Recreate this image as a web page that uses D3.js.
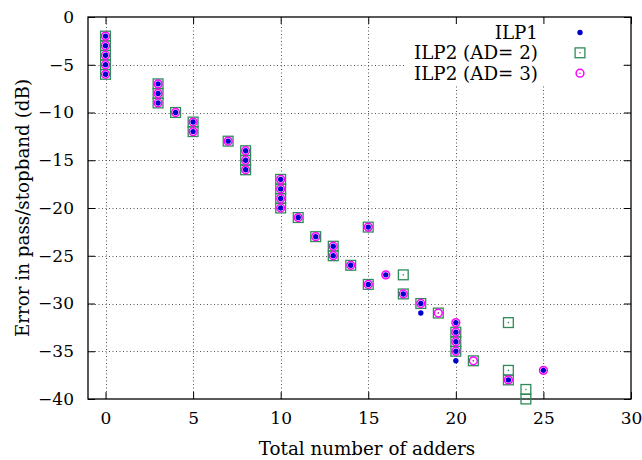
<!DOCTYPE html>
<html><head><meta charset="utf-8">
<script src="https://cdn.jsdelivr.net/npm/d3@7"></script>
<style>
body{margin:0;background:#fff}svg{display:block}
svg text{font-family:"DejaVu Serif",serif !important;}
</style>
</head><body>
<script>
// ---- data ----
const ilp1X = [0,0,0,0,0,3,3,3,4,5,5,7,8,8,8,10,10,10,10,11,12,13,13,14,15,15,16,17,18,18,20,20,20,20,20,23,25];
const ilp1Y = [-2,-3,-4,-5,-6,-7,-8,-9,-10,-11,-12,-13,-14,-15,-16,-17,-18,-19,-20,-21,-23,-24,-25,-26,-22,-28,-27,-29,-30,-31,-32,-33,-34,-35,-36,-38,-37];
const ad2X = [0,0,0,0,0,3,3,3,4,5,5,7,8,8,8,10,10,10,10,11,12,13,13,14,15,15,17,17,18,19,20,20,20,21,23,23,23,24,24];
const ad2Y = [-2,-3,-4,-5,-6,-7,-8,-9,-10,-11,-12,-13,-14,-15,-16,-17,-18,-19,-20,-21,-23,-24,-25,-26,-22,-28,-27,-29,-30,-31,-33,-34,-35,-36,-32,-37,-38,-39,-40];
const ad3X = [0,0,0,0,0,3,3,3,4,5,5,7,8,8,8,10,10,10,10,11,12,13,13,14,15,15,16,17,18,19,20,20,20,20,21,23,25];
const ad3Y = [-2,-3,-4,-5,-6,-7,-8,-9,-10,-11,-12,-13,-14,-15,-16,-17,-18,-19,-20,-21,-23,-24,-25,-26,-22,-28,-27,-29,-30,-31,-32,-33,-34,-35,-36,-38,-37];
const seriesNames = ["ILP1", "ILP2 (AD= 2)", "ILP2 (AD= 3)"];
const xTicks = [0,5,10,15,20,25,30];
const yTicks = [0,-5,-10,-15,-20,-25,-30,-35,-40];
const xLabel = "Total number of adders";
const yLabel = "Error in pass/stopband (dB)";

// ---- layout ----
const W = 642, H = 460;
const L = 88, R = 631, T = 17, B = 399;
const FONT = "DejaVu Serif";
const FS = 17, FT = 18.3;
const cBlue = "#0000cc", cGreen = "#2e8b57", cMag = "#ff00ff";

const svg = d3.select("body").append("svg").attr("width", W).attr("height", H);
const x = d3.scaleLinear().domain([-1, 30]).range([L, R]);
const y = d3.scaleLinear().domain([-40, 0]).range([B, T]);

// grid
const grid = svg.append("g").attr("stroke", "#555").attr("stroke-width", 1).attr("stroke-dasharray", "1,2.5");
grid.selectAll("line.gx").data(xTicks.filter(d => d < 30)).join("line")
  .attr("x1", d => Math.round(x(d)) + 0.5).attr("x2", d => Math.round(x(d)) + 0.5)
  .attr("y1", B).attr("y2", T);
grid.selectAll("line.gy").data(yTicks.filter(d => d > -40 && d < 0)).join("line")
  .attr("y1", d => Math.round(y(d)) + 0.5).attr("y2", d => Math.round(y(d)) + 0.5)
  .attr("x1", L).attr("x2", R);

// legend background (opaque key)
svg.append("rect").attr("x", 404).attr("y", T + 1).attr("width", 218).attr("height", 67).attr("fill", "#fff");

// axes with inward ticks
const tickLen = 7;
const gx = svg.append("g").attr("transform", `translate(0,${B})`)
  .call(d3.axisBottom(x).tickValues(xTicks).tickSize(-tickLen).tickPadding(13).tickFormat(d3.format("d")));
const gxTop = svg.append("g").attr("transform", `translate(0,${T})`)
  .call(d3.axisTop(x).tickValues(xTicks).tickSize(-tickLen).tickFormat(""));
const gy = svg.append("g").attr("transform", `translate(${L},0)`)
  .call(d3.axisLeft(y).tickValues(yTicks).tickSize(-tickLen).tickPadding(14).tickFormat(d => d === 0 ? "0" : "\u2212" + Math.abs(d)));
const gyR = svg.append("g").attr("transform", `translate(${R},0)`)
  .call(d3.axisRight(y).tickValues(yTicks).tickSize(-tickLen).tickFormat(""));
[gx, gxTop, gy, gyR].forEach(g => {
  g.attr("font-family", FONT);
  g.select(".domain").remove();
  g.selectAll(".tick line").attr("stroke", "#000").attr("stroke-width", 1);
  g.selectAll("text").attr("font-family", FONT).attr("font-size", FS).attr("fill", "#000");
});
svg.append("rect").attr("x", L).attr("y", T).attr("width", R - L).attr("height", B - T)
  .attr("fill", "none").attr("stroke", "#000").attr("stroke-width", 1.3);

// markers
function square(g, cx, cy) {
  g.append("rect").attr("x", cx - 4.9).attr("y", cy - 4.9).attr("width", 9.8).attr("height", 9.8)
    .attr("fill", "none").attr("stroke", cGreen).attr("stroke-width", 1.3);
  g.append("circle").attr("cx", cx).attr("cy", cy).attr("r", 0.8).attr("fill", cGreen);
}
function ring(g, cx, cy) {
  g.append("circle").attr("cx", cx).attr("cy", cy).attr("r", 3.9)
    .attr("fill", "none").attr("stroke", cMag).attr("stroke-width", 1.5);
  g.append("circle").attr("cx", cx).attr("cy", cy).attr("r", 0.8).attr("fill", cMag);
}
function dot(g, cx, cy) {
  g.append("circle").attr("cx", cx).attr("cy", cy).attr("r", 2.7).attr("fill", cBlue);
}
const pts = svg.append("g");
ad2X.forEach((d, i) => square(pts, x(d), y(ad2Y[i])));
ad3X.forEach((d, i) => ring(pts, x(d), y(ad3Y[i])));
ilp1X.forEach((d, i) => dot(pts, x(d), y(ilp1Y[i])));

// legend
const leg = svg.append("g");
const rowY = [32.5, 52.8, 73.2];
const drawers = [dot, square, ring];
seriesNames.forEach((n, i) => {
  leg.append("text").attr("x", 538).attr("y", rowY[i]).attr("dy", "0.35em").attr("text-anchor", "end")
    .attr("font-family", FONT).attr("font-size", FT).text(n);
  drawers[i](leg, 580, rowY[i]);
});

// axis titles
svg.append("text").attr("x", 367).attr("y", 455).attr("text-anchor", "middle")
  .attr("font-family", FONT).attr("font-size", FT).text(xLabel);
svg.append("text").attr("transform", `translate(29,208) rotate(-90)`).attr("text-anchor", "middle")
  .attr("font-family", FONT).attr("font-size", FT).text(yLabel);
</script>
</body></html>
